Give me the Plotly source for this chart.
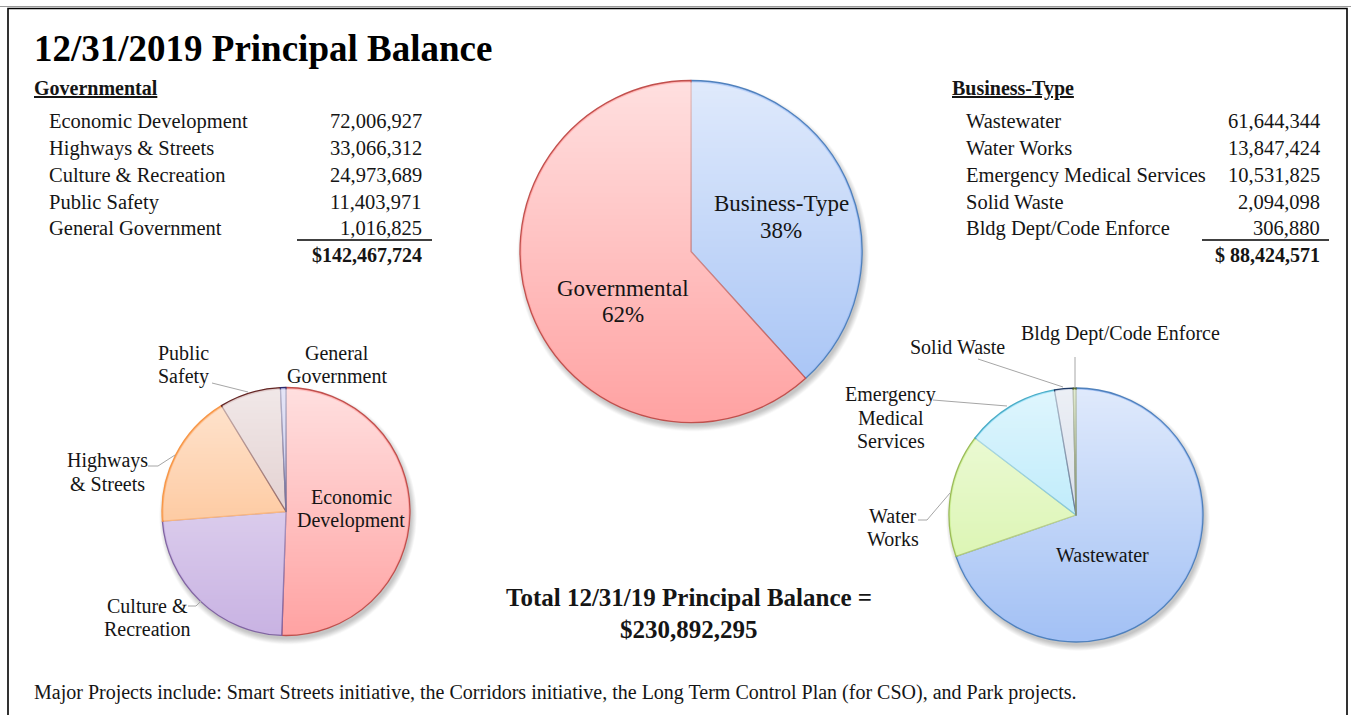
import base64
import math
import struct
import zlib

import plotly.graph_objects as go

# ---------------------------------------------------------------- data
W, H = 1351, 715

gov_labels = ["Economic Development", "Highways & Streets", "Culture & Recreation",
              "Public Safety", "General Government"]
gov_values = [72006927, 33066312, 24973689, 11403971, 1016825]

bus_labels = ["Wastewater", "Water Works", "Emergency Medical Services",
              "Solid Waste", "Bldg Dept/Code Enforce"]
bus_values = [61644344, 13847424, 10531825, 2094098, 306880]

split_labels = ["Business-Type", "Governmental"]

FONT = "Liberation Serif"
INK = "#151515"

gov_total = sum(gov_values)
bus_total = sum(bus_values)
grand_total = gov_total + bus_total
split_values = [bus_total, gov_total]


def px(x):
    return x / W


def py(y):
    return 1 - y / H


def domain(cx, cy, r):
    return dict(x=[px(cx - r), px(cx + r)], y=[py(cy + r), py(cy - r)])


def disc_png(n, a_top, a_bot, inset=1.6, rgb=(255, 255, 255), soft=0.0):
    """Disc whose opacity fades from top to bottom (glossy shading / shadow)."""
    rows = bytearray()
    c = (n - 1) / 2
    rad = n / 2 - inset
    for j in range(n):
        rows.append(0)
        a = a_top + (a_bot - a_top) * j / (n - 1)
        for i in range(n):
            d = math.hypot(i - c, j - c)
            if soft > 0:
                cov = min(1.0, max(0.0, (rad - d) / soft))
            else:
                cov = min(1.0, max(0.0, rad - d + 0.5))
            rows += bytes((rgb[0], rgb[1], rgb[2], int(255 * a * cov)))

    def chunk(tag, data):
        return (struct.pack(">I", len(data)) + tag + data
                + struct.pack(">I", zlib.crc32(tag + data) & 0xFFFFFFFF))

    png = (b"\x89PNG\r\n\x1a\n"
           + chunk(b"IHDR", struct.pack(">IIBBBBB", n, n, 8, 6, 0, 0, 0))
           + chunk(b"IDAT", zlib.compress(bytes(rows), 9))
           + chunk(b"IEND", b""))
    return "data:image/png;base64," + base64.b64encode(png).decode()


fig = go.Figure()

# ---------------------------------------------------------------- pies
PIES = {
    "split": dict(cx=691, cy=251.5, r=171),
    "gov": dict(cx=286, cy=511.5, r=124),
    "bus": dict(cx=1076, cy=515, r=127),
}

# slice styling, in data order (clockwise from 12 o'clock)
gov_fill = ["#FFA3A3", "#C9B3E3", "#FDB57C", "#D6BCBC", "#B3B3E6"]
gov_line = ["#C0504D", "#8064A2", "#F79646", "#632523", "#2E2A6B"]
bus_fill = ["#A3C1F5", "#D3F3A0", "#A2E3F9", "#C8D1E2", "#A9C97A"]
bus_line = ["#4F81BD", "#9BBB59", "#4BACC6", "#1F3A64", "#4F6228"]

pie_common = dict(sort=False, direction="clockwise", rotation=0, textinfo="none",
                  hoverinfo="label+value+percent", showlegend=False)

g = PIES["split"]
fig.add_trace(go.Pie(labels=split_labels, values=split_values,
                     marker=dict(colors=["#A3C1F5", "#FFA3A3"],
                                 line=dict(color=["#4F81BD", "#C0504D"], width=1.3)),
                     domain=domain(g["cx"], g["cy"], g["r"]), **pie_common))

g = PIES["gov"]
fig.add_trace(go.Pie(labels=gov_labels, values=gov_values,
                     marker=dict(colors=gov_fill, line=dict(color=gov_line, width=1.3)),
                     domain=domain(g["cx"], g["cy"], g["r"]), **pie_common))

g = PIES["bus"]
fig.add_trace(go.Pie(labels=bus_labels, values=bus_values,
                     marker=dict(colors=bus_fill, line=dict(color=bus_line, width=1.3)),
                     domain=domain(g["cx"], g["cy"], g["r"]), **pie_common))

# glossy top-to-bottom shading and soft drop shadow on each pie
images = []
for g in PIES.values():
    n = int(round(2 * g["r"]))
    images.append(dict(source=disc_png(n, 0.66, 0.0), xref="paper", yref="paper",
                       x=px(g["cx"] - g["r"]), y=py(g["cy"] - g["r"]),
                       sizex=px(2 * g["r"]), sizey=2 * g["r"] / H,
                       xanchor="left", yanchor="top", sizing="stretch", layer="above"))
    m = n + 10
    images.append(dict(source=disc_png(m, 0.35, 0.35, inset=0, rgb=(90, 90, 90), soft=6),
                       xref="paper", yref="paper",
                       x=px(g["cx"] - g["r"] - 3), y=py(g["cy"] - g["r"] - 1),
                       sizex=px(m), sizey=m / H,
                       xanchor="left", yanchor="top", sizing="stretch", layer="below"))

# ---------------------------------------------------------------- text helpers
annotations = []


def text(x, y, s, size=20, anchor="left", bold=False, color=INK):
    if bold:
        s = f"<b>{s}</b>"
    shift = {"left": -2, "right": 2, "center": 0}[anchor]
    annotations.append(dict(x=px(x + shift), y=py(y), xref="paper", yref="paper", text=s,
                            showarrow=False, xanchor=anchor, yanchor="middle", borderpad=0,
                            font=dict(family=FONT, size=size, color=color)))


def lines(x, y0, rows, size=20, step=23, anchor="center"):
    for k, s in enumerate(rows):
        text(x, y0 + k * step, s, size=size, anchor=anchor)


shapes = []


def poly(points, color="#A6A6A6", width=1):
    d = "M " + " L ".join(f"{px(x)},{py(y)}" for x, y in points)
    shapes.append(dict(type="path", path=d, xref="paper", yref="paper",
                       line=dict(color=color, width=width)))


# ---------------------------------------------------------------- frame & title
shapes.append(dict(type="line", xref="paper", yref="paper", x0=0, x1=1, y0=py(6.5), y1=py(6.5),
                   line=dict(color="#9A9A9A", width=1)))
shapes.append(dict(type="rect", xref="paper", yref="paper", x0=px(8), x1=px(1347),
                   y0=py(740), y1=py(8.5), line=dict(color="#000000", width=1.6)))

text(35, 48, "12/31/2019 Principal Balance", size=37, bold=True, color="#000")

# ---------------------------------------------------------------- tables
row_y = [121, 148, 175, 202, 228]

text(35, 88, "<u>Governmental</u>", size=20, bold=True)
for yy, lab, val in zip(row_y, gov_labels, gov_values):
    text(50, yy, lab, size=20.5)
    text(421, yy, f"{val:,}", size=20.5, anchor="right")
shapes.append(dict(type="line", xref="paper", yref="paper", x0=px(297), x1=px(432),
                   y0=py(240), y1=py(240), line=dict(color="#000", width=1.3)))
text(421, 255, f"${gov_total:>11,}", bold=True, anchor="right")

text(953, 88, "<u>Business-Type</u>", size=20, bold=True)
for yy, lab, val in zip(row_y, bus_labels, bus_values):
    text(967, yy, lab, size=20.5)
    text(1319, yy, f"{val:,}", size=20.5, anchor="right")
shapes.append(dict(type="line", xref="paper", yref="paper", x0=px(1202), x1=px(1329),
                   y0=py(240), y1=py(240), line=dict(color="#000", width=1.3)))
text(1319, 255, f"${bus_total:>11,}", bold=True, anchor="right")

# ---------------------------------------------------------------- pie labels
pct = [round(100 * v / grand_total) for v in split_values]
lines(781, 204, ["Business-Type", f"{pct[0]}%"], size=23, step=26)
lines(623, 288, ["Governmental", f"{pct[1]}%"], size=23, step=26)

lines(351, 497, ["Economic", "Development"])
lines(183, 353, ["Public", "Safety"])
lines(337, 353, ["General", "Government"])
lines(108, 461, ["Highways", "& Streets"])
lines(147, 606, ["Culture &", "Recreation"])
poly([(212, 383), (248, 392)])
poly([(148, 466), (158, 466), (175, 455)])
poly([(188, 606), (196, 606), (201, 601)])

text(1102, 555, "Wastewater", anchor="center")
text(1120, 333, "Bldg Dept/Code Enforce", anchor="center")
text(957, 347, "Solid Waste", anchor="center")
lines(891, 395, ["Emergency", "Medical", "Services"])
lines(893, 516, ["Water", "Works"])
poly([(1075, 357), (1075, 388)])
poly([(978, 359), (1063, 387)])
poly([(933, 400), (1007, 406)])
poly([(918, 520), (927, 520), (950, 493)])

# ---------------------------------------------------------------- totals & note
text(689, 597, "Total 12/31/19 Principal Balance =", size=25, bold=True, anchor="center")
text(689, 629, f"${grand_total:,}", size=25, bold=True, anchor="center")

text(35, 692, "Major Projects include: Smart Streets initiative, the Corridors initiative, "
              "the Long Term Control Plan (for CSO), and Park projects.", size=20)

fig.update_layout(
    width=W, height=H,
    margin=dict(l=0, r=0, t=0, b=0),
    paper_bgcolor="white", plot_bgcolor="white",
    annotations=annotations, shapes=shapes, images=images,
    font=dict(family=FONT, color=INK),
)

fig.write_html("out.html")
